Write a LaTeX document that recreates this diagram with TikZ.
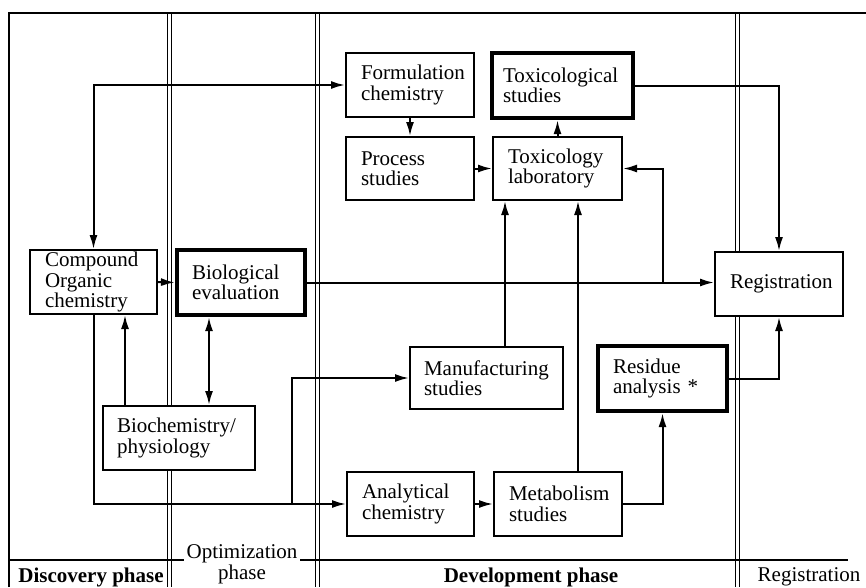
\documentclass[tikz,border=0pt]{standalone}
\usepackage{fontspec}
\setmainfont{Liberation Serif}
\usetikzlibrary{arrows.meta}
\begin{document}
\begin{tikzpicture}[x=1pt,y=-1pt,
  box/.style={draw, line width=2pt, fill=white, inner xsep=15pt, inner ysep=0pt, align=left, font=\fontsize{21}{20.5}\selectfont},
  thickbox/.style={box, line width=4.2pt},
  con/.style={line width=2pt},
  arr/.style={con, -{Latex[length=14pt,width=8pt]}},
  darr/.style={con, {Latex[length=14pt,width=8pt]}-{Latex[length=14pt,width=8pt]}},
  phaseline/.style={line width=1pt},
  lab/.style={font=\fontsize{21}{20.5}\selectfont, inner sep=1pt}
]
\useasboundingbox (0,0) rectangle (866,587);
% frame
\draw[line width=2pt] (9,587) -- (9,13) -- (866,13);
\draw[line width=2pt] (9,560) -- (848,560);
\foreach \xx in {169,317,737} {
  \draw[phaseline] (\xx-2,13) -- (\xx-2,587);
  \draw[phaseline] (\xx+2,13) -- (\xx+2,587);
}
% labels
\node[lab] (disc) at (91,577) {\textbf{Discovery phase}};
\node[lab, fill=white, inner xsep=3pt] (opt1) at (242,554) {Optimization};
\node[lab] (opt2) at (242,574) {phase};
\node[lab] (dev) at (531,577) {\textbf{Development phase}};
\node[lab] (regl) at (809,577) {Registration};
% boxes
\node[box, minimum width=127pt, minimum height=64pt, text width=97pt] (comp) at (93.5,282) {Compound\\Organic\\chemistry};
\node[thickbox, minimum width=128pt, minimum height=65pt, text width=98pt] (bio) at (241,282.5) {Biological\\evaluation};
\node[box, minimum width=152pt, minimum height=64pt, text width=124pt, inner xsep=14pt] (biochem) at (179,438) {Biochemistry/\\physiology};
\node[box, minimum width=128pt, minimum height=64pt, text width=98pt] (form) at (410,85) {Formulation\\chemistry};
\node[box, minimum width=128pt, minimum height=63pt, text width=98pt] (proc) at (410,168.5) {Process\\studies};
\node[thickbox, minimum width=141pt, minimum height=65pt, text width=119pt, inner xsep=11pt] (toxs) at (562.5,85.5) {Toxicological\\studies};
\node[box, minimum width=129pt, minimum height=63pt, text width=99pt] (toxl) at (557.5,168.5) {Toxicology\\laboratory};
\node[box, minimum width=128pt, minimum height=64pt, text width=98pt] (reg) at (779,284) {Registration};
\node[box, minimum width=153pt, minimum height=62pt, text width=125pt, inner xsep=14pt] (manu) at (486.5,378) {Manufacturing\\studies};
\node[thickbox, minimum width=129pt, minimum height=65pt, text width=99pt] (resid) at (662.5,378.5) {Residue\\analysis *};
\node[box, minimum width=127pt, minimum height=64pt, text width=97pt] (anal) at (410.5,504) {Analytical\\chemistry};
\node[box, minimum width=128pt, minimum height=64pt, text width=98pt] (metab) at (558,504) {Metabolism\\studies};
% helper coordinates
\coordinate (jt) at (resid.south |- bio.east);
\path (anal.west) ++(-54,0) coordinate (jm);
\coordinate (m1) at ([xshift=20pt]metab.north);
\coordinate (m2) at ([xshift=18.5pt]manu.north);
\coordinate (b1) at ([xshift=-54pt]biochem.north);
\coordinate (b2) at ([xshift=30pt]biochem.north);
% connectors
\draw[darr] (comp.north) |- (form.west);
\draw[arr] (form.south) -- (proc.north);
\draw[arr] (toxl.north) -- (toxl.north |- toxs.south);
\draw[arr] (proc.east) -- (toxl.west);
\draw[arr] (bio.east) -- (bio.east -| reg.west);
\draw[arr] (jt) |- (toxl.east);
\draw[arr] (comp.east) -- (bio.west);
\draw[arr] (toxs.east) -| (reg.north);
\draw[arr] (resid.east) -| (reg.south);
\draw[arr] (metab.east) -| (resid.south);
\draw[arr] (m1) -- (m1 |- toxl.south);
\draw[arr] (m2) -- (m2 |- toxl.south);
\draw[arr] (anal.east) -- (metab.west);
\draw[arr] (comp.south) |- (anal.west);
\draw[arr] (jm) |- (manu.west);
\draw[arr] (b1) -- (b1 |- comp.south);
\draw[darr] (b2) -- (b2 |- bio.south);
\end{tikzpicture}
\end{document}
